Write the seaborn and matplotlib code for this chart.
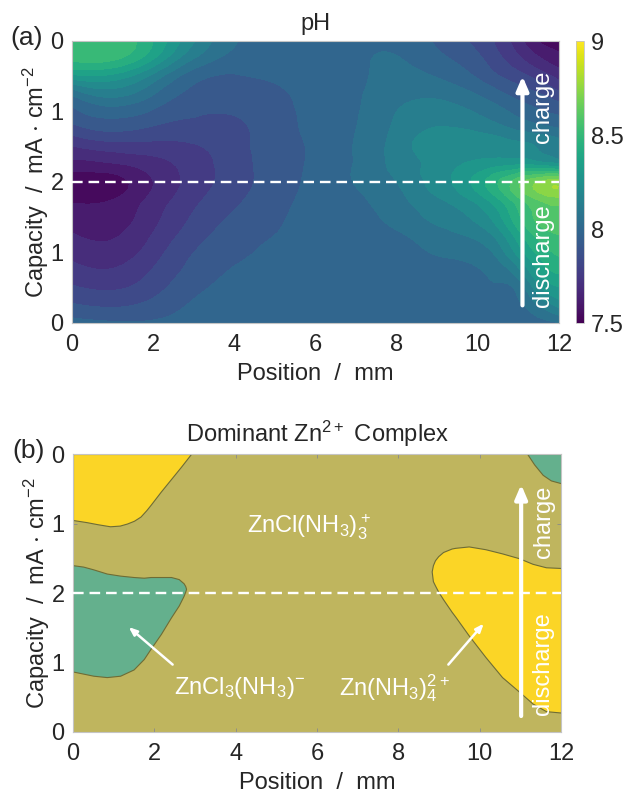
import numpy as np
import matplotlib
matplotlib.use("Agg")
import matplotlib.pyplot as plt
import matplotlib.tri as mtri
import seaborn as sns

sns.set_theme(style="ticks")
plt.rcParams['font.family'] = ['Liberation Sans', 'DejaVu Sans']
plt.rcParams['mathtext.fontset'] = 'custom'
plt.rcParams['mathtext.rm'] = 'Liberation Sans'
plt.rcParams['mathtext.default'] = 'regular'

# ---------- data ----------
position = [0, 1, 2, 3, 4, 5, 6, 7, 7.5, 8, 9, 10, 10.5, 11, 11.5, 12]
capacity = [0, .25, .5, .75, 1, 1.25, 1.5, 1.75, 2, 2.25, 2.5, 2.75, 3, 3.25, 3.5, 3.75, 4]
ph_rows = [
 [7.98,7.96,7.96,7.98,8.00,8.00,8.00,8.00,8.00,8.00,8.00,8.00,8.00,8.00,8.00,8.02],
 [7.885,7.865,7.90,7.96,7.99,8.00,8.00,8.00,8.00,8.00,8.00,8.00,8.00,8.01,8.10,8.20],
 [7.81,7.79,7.845,7.93,7.97,7.99,8.00,8.00,8.00,8.00,8.00,8.005,8.015,8.05,8.23,8.32],
 [7.75,7.73,7.805,7.90,7.955,7.98,7.995,8.00,8.00,8.00,8.01,8.02,8.06,8.16,8.34,8.42],
 [7.70,7.68,7.765,7.875,7.93,7.97,7.99,8.00,8.00,8.00,8.03,8.06,8.13,8.28,8.42,8.49],
 [7.655,7.64,7.73,7.84,7.91,7.95,7.985,8.00,8.005,8.015,8.07,8.125,8.21,8.37,8.50,8.55],
 [7.61,7.61,7.70,7.81,7.885,7.935,7.98,8.00,8.02,8.05,8.12,8.20,8.30,8.46,8.57,8.61],
 [7.56,7.575,7.675,7.78,7.86,7.92,7.975,8.01,8.04,8.075,8.165,8.28,8.39,8.53,8.63,8.67],
 [7.53,7.54,7.65,7.755,7.84,7.91,7.97,8.03,8.06,8.10,8.21,8.36,8.475,8.60,8.70,8.74],
 [7.62,7.64,7.69,7.76,7.84,7.91,7.965,8.03,8.07,8.13,8.20,8.27,8.30,8.32,8.30,8.26],
 [7.72,7.76,7.77,7.79,7.85,7.91,7.965,8.03,8.07,8.14,8.20,8.23,8.22,8.20,8.17,8.13],
 [7.84,7.89,7.86,7.85,7.86,7.915,7.97,8.025,8.065,8.12,8.18,8.16,8.13,8.09,8.06,8.03],
 [7.93,7.99,7.94,7.885,7.885,7.925,7.972,8.02,8.055,8.10,8.14,8.09,8.05,8.00,7.96,7.93],
 [8.04,8.13,8.03,7.93,7.925,7.94,7.975,8.015,8.045,8.07,8.08,8.02,7.97,7.92,7.88,7.82],
 [8.30,8.30,8.15,7.98,7.945,7.96,7.985,8.01,8.035,8.05,8.02,7.94,7.88,7.83,7.77,7.70],
 [8.49,8.49,8.33,8.10,8.00,7.99,7.995,8.005,8.03,8.03,7.97,7.89,7.82,7.74,7.66,7.60],
 [8.50,8.53,8.40,8.18,8.03,8.00,8.00,8.00,8.00,8.00,7.94,7.85,7.78,7.68,7.57,7.54],
]
ph_levels = [7.5 + 0.075 * k for k in range(21)]

y_ticks = [0, 1, 2, 3, 4]
y_labels = ["0", "1", "2", "1", "0"]
x_ticks = [0, 2, 4, 6, 8, 10, 12]
cbar_ticks = [7.5, 8, 8.5, 9]
cbar_labels = ["7.5", "8", "8.5", "9"]

# dominant-complex region boundaries
tl_x = [0, .33, .6, .91, 1.15, 1.33, 1.5, 1.66, 1.8, 1.91, 2.16, 2.41, 2.66, 2.9]
tl_low = [3.05, 3.02, 2.99, 2.96, 2.97, 3.00, 3.04, 3.10, 3.19, 3.27, 3.46, 3.64, 3.82, 4.0]
gl_x = [0, .25, .5, .83, 1.16, 1.49, 1.74, 1.91, 2.16, 2.41, 2.6, 2.72, 2.76, 2.78]
gl_low = [.87, .84, .81, .79, .81, .90, 1.05, 1.2, 1.41, 1.65, 1.82, 1.96, 2.02, 2.06]
gl_up = [2.40, 2.38, 2.34, 2.28, 2.25, 2.23, 2.22, 2.23, 2.23, 2.23, 2.20, 2.14, 2.10, 2.06]
yr_x = [8.82, 8.85, 8.9, 8.98, 9.1, 9.31, 9.4, 9.73, 10.14, 10.55, 10.97, 11.3, 11.63, 12]
yr_low = [2.31, 2.17, 2.11, 2.02, 1.91, 1.73, 1.66, 1.39, 1.08, .79, .58, .41, .30, .28]
yr_up = [2.31, 2.40, 2.47, 2.53, 2.59, 2.64, 2.65, 2.67, 2.63, 2.57, 2.50, 2.42, 2.37, 2.36]
tr_x = [11.17, 11.34, 11.55, 11.75, 12]
tr_low = [4.0, 3.85, 3.70, 3.62, 3.58]

BASE, YELLOW, GREEN, EDGE = "#BFB55E", "#FBD526", "#64B08D", "#6E6C35"
TXT = "#262626"
FS = 17

W, H = 623, 793
fig = plt.figure(figsize=(W / 100, H / 100), dpi=100)

def add_axes(l, t, r, b):
    return fig.add_axes([l / W, 1 - b / H, (r - l) / W, (b - t) / H])

def style(ax):
    ax.set_xlim(0, 12)
    ax.set_ylim(0, 4)
    ax.set_xticks(x_ticks)
    ax.set_yticks(y_ticks, y_labels)
    ax.tick_params(direction="in", length=3, width=0.6, color="#8a8a8a",
                   labelsize=FS, labelcolor=TXT, top=True, right=True)
    ax.tick_params(axis="x", pad=8)
    ax.tick_params(axis="y", pad=6)
    for s in ax.spines.values():
        s.set_color("#c4c4c4")
        s.set_linewidth(0.8)
    ax.set_xlabel("Position  /  mm", fontsize=FS, color=TXT, labelpad=5)
    ax.set_ylabel(r"Capacity  /  mA $\cdot$ cm$^{-2}$", fontsize=FS, color=TXT, labelpad=0)
    ax.axhline(2, color="white", ls=(0, (4.5, 2.5)), lw=1.7, zorder=5)

def arrow(ax, x, t0, t1):
    ax.annotate("", xy=(x, t1), xytext=(x, t0), zorder=6,
                arrowprops=dict(arrowstyle="-|>,head_width=0.3,head_length=0.7",
                                color="white", lw=3, shrinkA=0, shrinkB=0))

# ---------- panel a ----------
ax1 = add_axes(72, 41, 559, 323)
cmap = sns.color_palette("viridis", as_cmap=True)
gx, gt = np.meshgrid(position, capacity)
tri = mtri.Triangulation(gx.ravel(), gt.ravel())
tri_f, z_f = mtri.UniformTriRefiner(tri).refine_field(np.array(ph_rows).ravel(), subdiv=3)
cs = ax1.tricontourf(tri_f, z_f, levels=ph_levels, cmap=cmap, vmin=7.5, vmax=9, extend="both")
style(ax1)
ax1.set_title("pH", fontsize=FS, color=TXT, pad=8)
arrow(ax1, 11.1, 0.25, 3.5)
ax1.text(11.6, 3.07, "charge", rotation=90, color="white", fontsize=FS, ha="center", va="center", zorder=6)
ax1.text(11.6, 0.95, "discharge", rotation=90, color="white", fontsize=FS, ha="center", va="center", zorder=6)

cax = add_axes(576, 41, 584, 323)
sm = plt.cm.ScalarMappable(norm=plt.Normalize(7.5, 9), cmap=cmap)
cb = fig.colorbar(sm, cax=cax)
cb.set_ticks(cbar_ticks, labels=cbar_labels)
cb.ax.tick_params(length=0, labelsize=FS, labelcolor=TXT, pad=5)
cb.outline.set_edgecolor("#c4c4c4")
cb.outline.set_linewidth(0.6)

# ---------- panel b ----------
ax2 = add_axes(73, 454, 561, 732)
ax2.set_facecolor(BASE)
style(ax2)
ax2.set_title(r"Dominant Zn$^{2+}$ Complex", fontsize=FS, color=TXT, pad=9)
kw = dict(edgecolor=EDGE, linewidth=0.8, zorder=2)
ax2.fill_between(tl_x, tl_low, 4, facecolor=YELLOW, **kw)
ax2.fill_between(gl_x, gl_low, gl_up, facecolor=GREEN, **kw)
ax2.fill_between(yr_x, yr_low, yr_up, facecolor=YELLOW, **kw)
ax2.fill_between(tr_x, tr_low, 4, facecolor=GREEN, **kw)
arrow(ax2, 11.02, 0.23, 3.56)
ax2.text(11.58, 3.03, "charge", rotation=90, color="white", fontsize=FS, ha="center", va="center", zorder=6)
ax2.text(11.55, 0.99, "discharge", rotation=90, color="white", fontsize=FS, ha="center", va="center", zorder=6)
ax2.text(5.8, 2.95, r"ZnCl(NH$_3$)$_3^+$", color="white", fontsize=FS, ha="center", va="center", zorder=6)
ax2.text(4.1, 0.63, r"ZnCl$_3$(NH$_3$)$^{-}$", color="white", fontsize=FS, ha="center", va="center", zorder=6)
ax2.text(7.9, 0.63, r"Zn(NH$_3$)$_4^{2+}$", color="white", fontsize=FS, ha="center", va="center", zorder=6)
ax2.annotate("", xy=(1.37, 1.51), xytext=(2.45, 0.97), zorder=6,
             arrowprops=dict(arrowstyle="-|>,head_width=0.16,head_length=0.4", color="white", lw=1.8, shrinkA=0, shrinkB=0))
ax2.annotate("", xy=(10.1, 1.56), xytext=(9.23, 0.97), zorder=6,
             arrowprops=dict(arrowstyle="-|>,head_width=0.16,head_length=0.4", color="white", lw=1.8, shrinkA=0, shrinkB=0))

fig.text(10 / W, 1 - 38 / H, "(a)", fontsize=19, color=TXT, va="center")
fig.text(12 / W, 1 - 451 / H, "(b)", fontsize=19, color=TXT, va="center")

fig.savefig("out.png", dpi=100)
